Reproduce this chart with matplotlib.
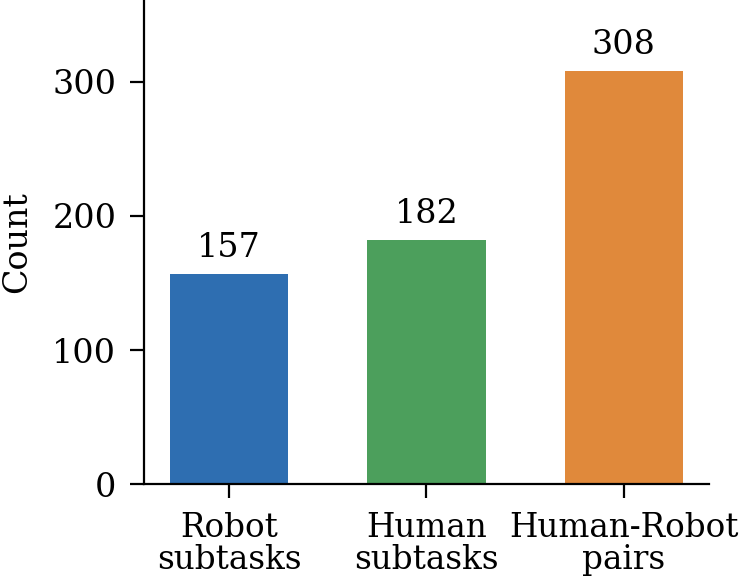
import matplotlib.pyplot as plt

categories = ['Robot\nsubtasks', 'Human\nsubtasks', 'Human-Robot\npairs']
counts = [157, 182, 308]
colors = ['#2e6eb1', '#4c9f5c', '#e0893b']

plt.rcParams['font.family'] = 'DejaVu Serif'
plt.rcParams['font.size'] = 24

fig = plt.figure(figsize=(7.39, 5.82), dpi=100)
ax = fig.add_axes([0.195, 0.168, 0.764, 0.832])

bars = ax.bar(range(len(counts)), counts, width=0.6, color=colors)
for b, v in zip(bars, counts):
    ax.annotate(str(v), (b.get_x() + b.get_width() / 2, v),
                xytext=(0, 7), textcoords='offset points',
                ha='center', va='bottom', fontsize=24)

ax.set_xticks(range(len(counts)))
ax.set_xticklabels(categories, linespacing=1.0, fontsize=23.5)
ax.set_ylabel('Count', labelpad=14)
ax.set_yticks([0, 100, 200, 300])
ax.set_ylim(0, 361)

for s in ['top', 'right']:
    ax.spines[s].set_visible(False)
for s in ['left', 'bottom']:
    ax.spines[s].set_linewidth(1.6)
ax.tick_params(width=1.6, length=10, pad=10)

fig.savefig('out.png', dpi=100)
